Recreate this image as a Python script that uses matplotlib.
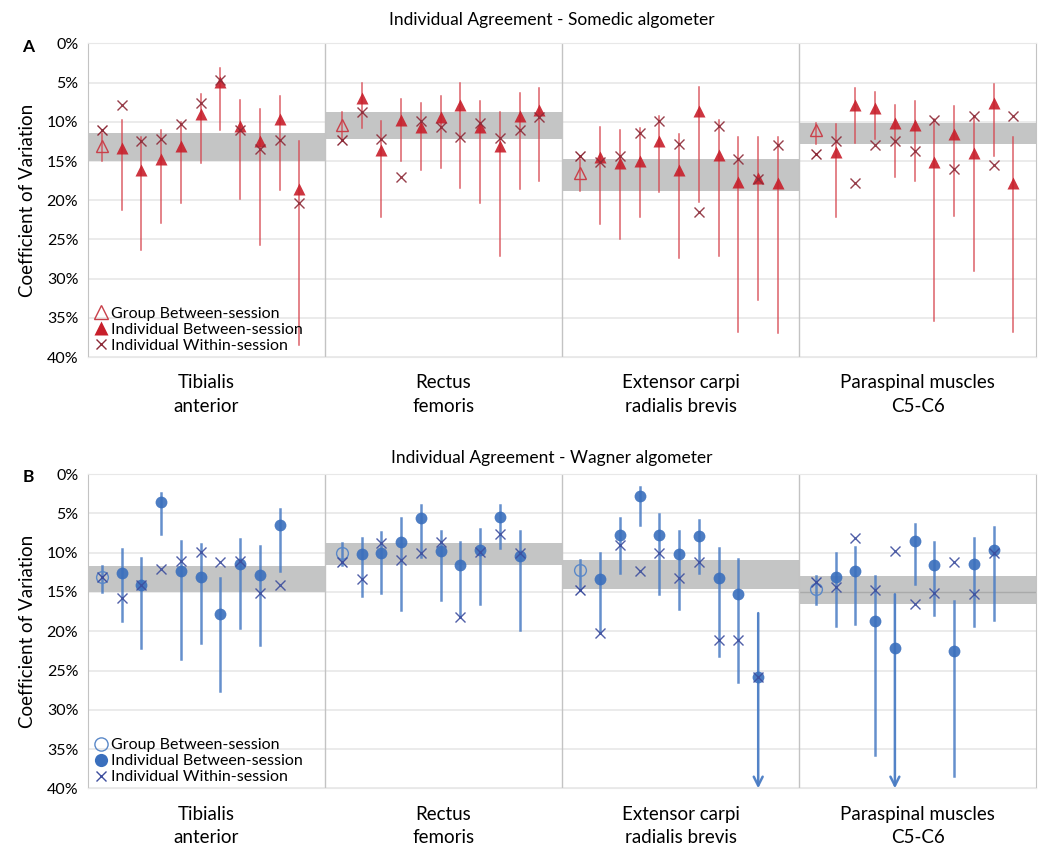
import numpy as np
import matplotlib.pyplot as plt
from matplotlib.lines import Line2D

plt.rcParams['font.family'] = ['Lato', 'DejaVu Sans']

muscles = ['Tibialis\nanterior', 'Rectus\nfemoris',
           'Extensor carpi\nradialis brevis', 'Paraspinal muscles\nC5-C6']
y_ticks = [0, 5, 10, 15, 20, 25, 30, 35, 40]
inf = np.inf  # upper limit beyond the 40% axis

# ---- Somedic algometer (CV %) ----
som_group_cv = [13.1, 10.4, 16.5, 11.0]
som_group_lo = [11.4, 8.8, 14.7, 10.1]
som_group_hi = [15.0, 12.2, 18.8, 12.8]
som_group_within = [11.1, 12.3, 14.4, 14.1]

som_cv = [
    [13.4, 16.1, 14.8, 13.1, 9.0, 4.9, 10.5, 12.4, 9.7, 18.6],
    [6.9, 13.6, 9.8, 10.7, 9.4, 7.9, 10.7, 13.1, 9.2, 8.5],
    [14.5, 15.2, 15.0, 12.5, 16.1, 8.6, 14.2, 17.7, 17.2, 17.8],
    [13.9, 7.8, 8.2, 10.1, 10.4, 15.1, 11.6, 14.0, 7.6, 17.8],
]
som_lo = [
    [9.8, 11.9, 11.0, 10.0, 6.4, 3.1, 7.2, 8.4, 6.7, 12.4],
    [5.1, 9.9, 7.1, 7.6, 6.7, 5.1, 7.4, 8.8, 6.3, 5.7],
    [10.7, 11.0, 10.8, 9.3, 11.6, 5.6, 9.8, 11.9, 11.9, 12.0],
    [10.3, 5.7, 6.2, 7.8, 7.3, 9.7, 8.0, 9.2, 5.2, 11.9],
]
som_hi = [
    [21.2, 26.3, 22.9, 20.3, 15.3, 11.1, 19.8, 25.7, 18.7, 38.5],
    [10.8, 22.2, 15.0, 16.1, 15.9, 18.5, 20.4, 27.1, 18.6, 17.6],
    [23.0, 24.9, 22.1, 18.9, 27.4, 20.2, 27.1, 36.8, 32.7, 37.0],
    [22.1, 12.7, 12.2, 17.1, 17.5, 35.4, 22.0, 29.0, 14.3, 36.8],
]
som_within = [
    [7.8, 12.5, 12.2, 10.3, 7.6, 4.7, 11.0, 13.5, 12.3, 20.3],
    [8.7, 12.2, 17.0, 9.9, 10.7, 12.0, 10.1, 12.1, 11.0, 9.4],
    [15.1, 14.4, 11.4, 9.9, 12.8, 21.5, 10.5, 14.8, 17.3, 13.0],
    [12.4, 17.8, 12.9, 12.4, 13.7, 9.8, 16.0, 9.2, 15.5, 9.3],
]

# ---- Wagner algometer (CV %) ----
wag_group_cv = [13.1, 10.0, 12.2, 14.6]
wag_group_lo = [11.7, 8.8, 10.9, 13.0]
wag_group_hi = [15.0, 11.6, 14.6, 16.6]
wag_group_within = [13.1, 11.2, 14.8, 13.7]

wag_cv = [
    [12.6, 14.1, 3.6, 12.3, 13.1, 17.8, 11.5, 12.8, 6.5],
    [10.2, 10.0, 8.7, 5.6, 9.8, 11.6, 9.7, 5.5, 10.4],
    [13.3, 7.7, 2.8, 7.7, 10.2, 7.9, 13.2, 15.3, 25.8],
    [13.1, 12.3, 18.7, 22.1, 8.5, 11.6, 22.5, 11.4, 9.7],
]
wag_lo = [
    [9.6, 10.7, 2.4, 8.5, 8.9, 13.2, 8.3, 9.2, 4.5],
    [8.1, 7.4, 5.6, 3.9, 7.2, 8.6, 7.0, 3.9, 7.3],
    [10.0, 5.6, 1.7, 5.1, 7.3, 5.8, 9.4, 10.8, 17.7],
    [10.0, 9.3, 13.0, 15.3, 6.3, 8.7, 16.2, 8.2, 6.8],
]
wag_hi = [
    [18.7, 22.1, 7.6, 23.5, 21.5, 27.6, 19.6, 21.8, 12.4],
    [15.5, 15.2, 17.3, 10.5, 16.0, 18.2, 16.5, 9.4, 19.9],
    [20.2, 12.6, 6.5, 15.3, 17.2, 12.6, 23.1, 26.5, inf],
    [19.3, 19.1, 35.8, inf, 14.0, 17.9, 38.4, 19.4, 18.6],
]
wag_within = [
    [15.8, 14.1, 12.1, 11.1, 9.9, 11.2, 11.1, 15.1, 14.1],
    [13.4, 8.8, 11.0, 10.0, 8.7, 18.2, 9.9, 7.6, 10.0],
    [20.2, 9.0, 12.3, 10.1, 13.2, 11.2, 21.1, 21.1, 25.8],
    [14.4, 8.2, 14.8, 9.8, 16.5, 15.1, 11.2, 15.3, 10.0],
]

SEC = 12                              # width of one muscle block in x units
sec_offset = [0.7, 0.85, 0.93, 0.85]  # position of group marker in each block
band_color = '#c4c5c5'
grid_color = '#e8e8e8'
frame_color = '#c3c3c3'


def draw_panel(ax, g_cv, g_lo, g_hi, g_wi, cv, lo, hi, wi, style):
    ymax = y_ticks[-1]
    for k in range(len(muscles)):
        x0 = SEC * k + sec_offset[k]
        # group confidence band across the muscle block
        ax.fill_between([SEC * k, SEC * (k + 1)], g_lo[k], g_hi[k],
                        color=band_color, lw=0, zorder=1)
        # group marker (hollow)
        ax.plot([x0, x0], [g_lo[k], g_hi[k]], color=style['err'],
                lw=style['lw'], alpha=0.85, zorder=2)
        ax.plot(x0, g_cv[k], ls='none', marker=style['marker'], ms=style['ms'],
                mfc='none', mec=style['hollow'], mew=1.0, zorder=3)
        ax.plot(x0, g_wi[k], ls='none', marker='x', ms=6.5,
                mec=style['cross'], mew=1.0, zorder=4)
        # individual subjects
        xs = x0 + 1 + np.arange(len(cv[k]))
        for x, c, l, h in zip(xs, cv[k], lo[k], hi[k]):
            if np.isfinite(h):
                ax.plot([x, x], [l, h], color=style['err'], lw=style['lw'],
                        alpha=0.85, zorder=2)
            else:
                ax.annotate('', xy=(x, ymax), xytext=(x, l),
                            arrowprops=dict(arrowstyle='->', color=style['err'],
                                            lw=style['lw'], alpha=0.95,
                                            mutation_scale=16, shrinkA=0, shrinkB=0),
                            annotation_clip=False, zorder=2)
        ax.plot(xs, cv[k], ls='none', marker=style['marker'], ms=style['ms'],
                color=style['face'], alpha=0.9, mec='none', zorder=3)
        ax.plot(xs, wi[k], ls='none', marker='x', ms=6.5,
                mec=style['cross'], mew=1.0, alpha=0.9, zorder=4)

    for k in range(1, len(muscles)):
        ax.axvline(SEC * k, color=frame_color, lw=1, zorder=1.5)

    ax.set_xlim(0, SEC * len(muscles))
    ax.set_ylim(ymax, 0)
    ax.set_yticks(y_ticks)
    ax.set_yticklabels(['{}%'.format(t) for t in y_ticks], fontsize=11.5)
    ax.tick_params(axis='y', length=0, pad=7)
    ax.set_xticks([])
    ax.grid(axis='y', color=grid_color, lw=1.2, zorder=0)
    ax.set_axisbelow(True)
    for side in ['left', 'right']:
        ax.spines[side].set_color(frame_color)
    for side in ['top', 'bottom']:
        ax.spines[side].set_color(grid_color)
    ax.set_ylabel('Coefficient of Variation', fontsize=13.5, labelpad=8)

    for k, name in enumerate(muscles):
        ax.text(SEC * k + SEC / 2, ymax + 2.2, name, ha='center', va='top',
                fontsize=13.5, linespacing=1.45)

    handles = [
        Line2D([], [], ls='none', marker=style['marker'], ms=style['ms'] + 1,
               mfc='none', mec=style['hollow'], mew=1.0),
        Line2D([], [], ls='none', marker=style['marker'], ms=style['ms'] + 1,
               color=style['face'], mec='none'),
        Line2D([], [], ls='none', marker='x', ms=7, mec=style['cross'], mew=1.0),
    ]
    labels = ['Group Between-session', 'Individual Between-session',
              'Individual Within-session']
    ax.legend(handles, labels, loc='lower left', bbox_to_anchor=(-0.004, -0.018),
              frameon=False, fontsize=11.5, handlelength=0.9, handletextpad=0.15,
              labelspacing=0.12, borderaxespad=0.2)


red_style = dict(marker='^', ms=8.5, face='#c81f2b', hollow='#c8404a',
                 err='#d6454e', cross='#8c2a37', lw=1.1)
blue_style = dict(marker='o', ms=8.5, face='#3a6fbd', hollow='#5a88c8',
                  err='#4a7cc4', cross='#3d4e9e', lw=1.8)

fig = plt.figure(figsize=(10.43, 8.48), dpi=100)
ax_a = fig.add_axes([0.0844, 0.579, 0.909, 0.3698])
ax_b = fig.add_axes([0.0844, 0.0703, 0.909, 0.3707])

draw_panel(ax_a, som_group_cv, som_group_lo, som_group_hi, som_group_within,
           som_cv, som_lo, som_hi, som_within, red_style)
draw_panel(ax_b, wag_group_cv, wag_group_lo, wag_group_hi, wag_group_within,
           wag_cv, wag_lo, wag_hi, wag_within, blue_style)

# darker reference line across the paraspinal band of panel B
ax_b.plot([SEC * 3, SEC * 4], [15, 15], color='#a9aaaa', lw=1, zorder=1.2)

fig.text(552 / 1043, 1 - 20 / 848, 'Individual Agreement - Somedic algometer',
         ha='center', va='center', fontsize=12.5)
fig.text(552 / 1043, 1 - 458 / 848, 'Individual Agreement - Wagner algometer',
         ha='center', va='center', fontsize=12.5)
fig.text(28 / 1043, 1 - 47 / 848, 'A', ha='center', va='center',
         fontsize=12.5, fontweight='bold')
fig.text(28 / 1043, 1 - 477 / 848, 'B', ha='center', va='center',
         fontsize=12.5, fontweight='bold')

fig.savefig('out.png', dpi=100)
